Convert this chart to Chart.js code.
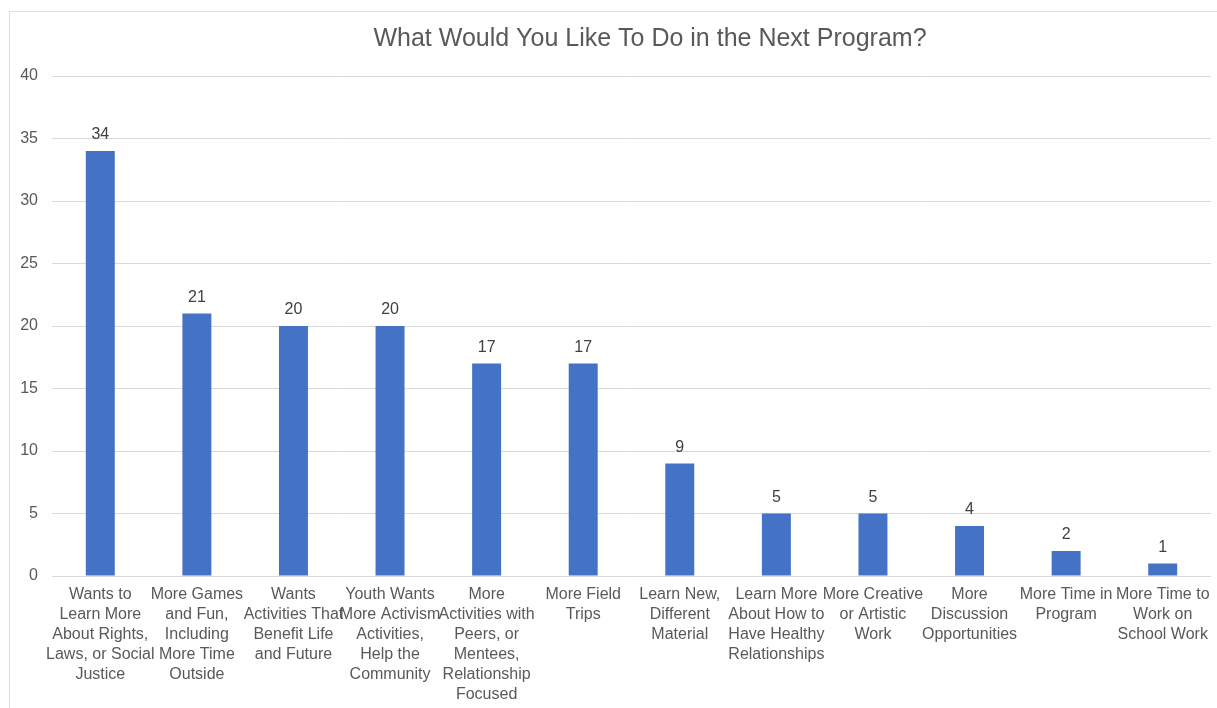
<!DOCTYPE html>
<html>
<head>
<meta charset="utf-8">
<title>What Would You Like To Do in the Next Program?</title>
<script src="https://cdn.jsdelivr.net/npm/chart.js@4.4.1/dist/chart.umd.min.js"></script>
<style>
  html, body { margin: 0; padding: 0; background: #fff; overflow: hidden; }
  #frame { position: absolute; left: 9px; top: 11px; width: 1300px; height: 740px; border: 1px solid #dedede; }
  #wrap { position: absolute; left: 0; top: 0; width: 1217px; height: 708px; overflow: hidden; }
</style>
</head>
<body>
<div id="frame"></div>
<div id="wrap"><canvas id="programChart" width="1300" height="708"></canvas></div>
<script>
// survey answers, one entry per category
const categories = [
  ['Wants to', 'Learn More', 'About Rights,', 'Laws, or Social', 'Justice'],
  ['More Games', 'and Fun,', 'Including', 'More Time', 'Outside'],
  ['Wants', 'Activities That', 'Benefit Life', 'and Future'],
  ['Youth Wants', 'More Activism', 'Activities,', 'Help the', 'Community'],
  ['More', 'Activities with', 'Peers, or', 'Mentees,', 'Relationship', 'Focused'],
  ['More Field', 'Trips'],
  ['Learn New,', 'Different', 'Material'],
  ['Learn More', 'About How to', 'Have Healthy', 'Relationships'],
  ['More Creative', 'or Artistic', 'Work'],
  ['More', 'Discussion', 'Opportunities'],
  ['More Time in', 'Program'],
  ['More Time to', 'Work on', 'School Work']
]
const responses = [34, 21, 20, 20, 17, 17, 9, 5, 5, 4, 2, 1]
const yMax = 40
const yStep = 5

const fontFamily = "'Liberation Sans', Arial, Helvetica, sans-serif"

// writes each bar's count just above it
const valueLabels = {
  id: 'valueLabels',
  afterDatasetsDraw(chart) {
    const ctx = chart.ctx
    const meta = chart.getDatasetMeta(0)
    ctx.save()
    ctx.font = '16px ' + fontFamily
    ctx.fillStyle = '#404040'
    ctx.textAlign = 'center'
    ctx.textBaseline = 'alphabetic'
    meta.data.forEach((bar, i) => {
      ctx.fillText(String(chart.data.datasets[0].data[i]), bar.x, bar.y - 12)
    })
    ctx.restore()
  }
}

const ctx = document.getElementById('programChart').getContext('2d')
const programChart = new Chart(ctx, {
  type: 'bar',
  data: {
    labels: categories,
    datasets: [{
      data: responses,
      backgroundColor: '#4472C4',
      borderWidth: 0,
      barPercentage: 0.3,
      categoryPercentage: 1
    }]
  },
  options: {
    responsive: false,
    devicePixelRatio: 1,
    animation: false,
    layout: { padding: 0 },
    plugins: {
      legend: { display: false },
      tooltip: { enabled: false },
      title: {
        display: true,
        text: 'What Would You Like To Do in the Next Program?',
        color: '#595959',
        font: { family: fontFamily, size: 25, weight: 'normal' },
        padding: { top: 24, bottom: 22 }
      }
    },
    scales: {
      x: {
        grid: { display: false },
        border: { display: false },
        ticks: {
          color: '#595959',
          font: { family: fontFamily, size: 16, lineHeight: 1.25 },
          maxRotation: 0,
          minRotation: 0,
          autoSkip: false,
          padding: 1
        },
        afterFit(axis) { axis.height = 132 }
      },
      y: {
        min: 0,
        max: yMax,
        border: { display: false },
        grid: { color: '#d9d9d9', lineWidth: 1, drawTicks: false },
        ticks: {
          stepSize: yStep,
          color: '#595959',
          font: { family: fontFamily, size: 16 },
          padding: 14
        },
        afterFit(axis) { axis.width = 52 }
      },
      // empty strip on the right; the canvas runs past the visible window
      yRight: {
        axis: 'y',
        position: 'right',
        min: 0,
        max: yMax,
        border: { display: false },
        grid: { display: false, drawTicks: false },
        ticks: { display: false },
        afterFit(axis) { axis.width = 89 }
      }
    }
  },
  plugins: [valueLabels]
})
</script>
</body>
</html>
